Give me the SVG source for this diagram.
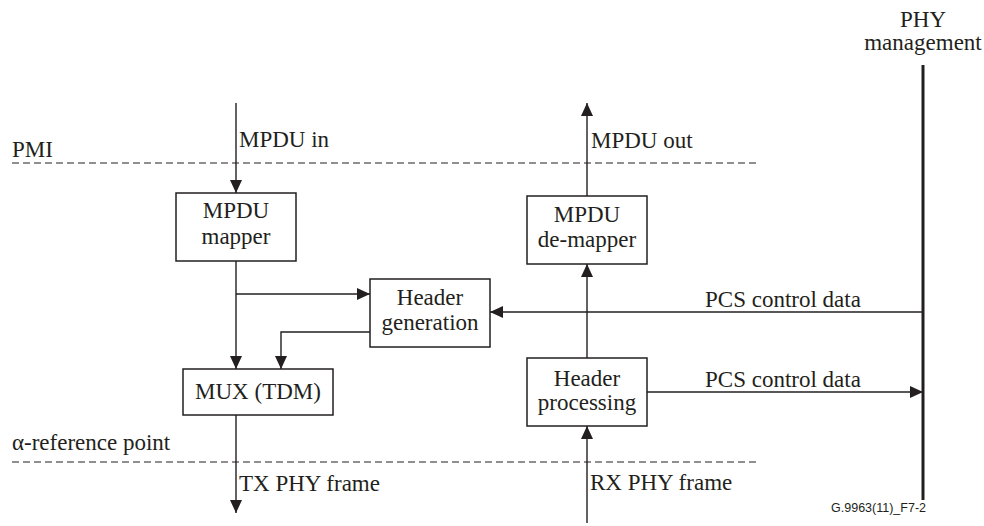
<svg xmlns="http://www.w3.org/2000/svg" width="984" height="526" viewBox="0 0 984 526">
<style>
  .t { font-family: "Liberation Serif", serif; font-size: 23px; fill: #231f20; }
  .c { text-anchor: middle; }
  .box { fill: #fff; stroke: #231f20; stroke-width: 1.5; }
  .ln { fill: none; stroke: #231f20; stroke-width: 1.4; }
  .dash { fill: none; stroke: #231f20; stroke-width: 1.2; stroke-dasharray: 7 4; }
  .thick { fill: none; stroke: #231f20; stroke-width: 3; }
  .arr { marker-end: url(#ah); }
  .code { font-family: "Liberation Sans", sans-serif; font-size: 12.5px; text-anchor: end; fill: #231f20; }
</style>
<defs>
  <marker id="ah" markerUnits="userSpaceOnUse" markerWidth="13" markerHeight="12" refX="13" refY="6" orient="auto">
    <path d="M0,0 L13,6 L0,12 z" fill="#231f20"/>
  </marker>
</defs>
<rect width="984" height="526" fill="#fff"/>

<g id="reference-lines">
  <line class="dash" x1="12" y1="163" x2="760" y2="163"/>
  <line class="dash" x1="12" y1="462" x2="760" y2="462"/>
  <text class="t" font-family="Liberation Serif, serif" x="12" y="157">PMI</text>
  <text class="t" font-family="Liberation Serif, serif" x="12" y="450">α-reference point</text>
</g>

<g id="phy-management">
  <line class="thick" x1="923" y1="65" x2="923" y2="500"/>
  <text class="t c" x="923" y="27">PHY</text>
  <text class="t c" x="923" y="50">management</text>
</g>

<g id="connectors">
  <line class="ln arr" x1="236" y1="103" x2="236" y2="193"/>
  <line class="ln arr" x1="236" y1="261" x2="236" y2="369"/>
  <line class="ln arr" x1="236" y1="294" x2="370" y2="294"/>
  <polyline class="ln arr" points="370,332 281,332 281,369"/>
  <line class="ln arr" x1="236" y1="415" x2="236" y2="513"/>
  <line class="ln arr" x1="587" y1="523" x2="587" y2="426"/>
  <line class="ln arr" x1="587" y1="358" x2="587" y2="264"/>
  <line class="ln arr" x1="587" y1="196" x2="587" y2="103"/>
  <line class="ln arr" x1="923" y1="312" x2="490" y2="312"/>
  <line class="ln arr" x1="647" y1="392" x2="923" y2="392"/>
  <text class="t" x="239" y="147">MPDU in</text>
  <text class="t" x="591" y="148">MPDU out</text>
  <text class="t" x="239" y="491">TX PHY frame</text>
  <text class="t" x="590" y="490">RX PHY frame</text>
  <text class="t c" x="783" y="307">PCS control data</text>
  <text class="t c" x="783" y="387">PCS control data</text>
</g>

<g id="mpdu-mapper">
  <rect class="box" x="176" y="193" width="120" height="68"/>
  <text class="t c" x="236" y="218">MPDU</text>
  <text class="t c" x="236" y="244">mapper</text>
</g>

<g id="header-generation">
  <rect class="box" x="370" y="279" width="120" height="68"/>
  <text class="t c" x="430" y="305">Header</text>
  <text class="t c" x="430" y="330">generation</text>
</g>

<g id="mux-tdm">
  <rect class="box" x="183" y="369" width="150" height="46"/>
  <text class="t c" x="258" y="399">MUX (TDM)</text>
</g>

<g id="mpdu-demapper">
  <rect class="box" x="527" y="196" width="120" height="68"/>
  <text class="t c" x="587" y="222">MPDU</text>
  <text class="t c" x="587" y="247">de-mapper</text>
</g>

<g id="header-processing">
  <rect class="box" x="527" y="358" width="120" height="68"/>
  <text class="t c" x="587" y="386">Header</text>
  <text class="t c" x="587" y="410">processing</text>
</g>

<text class="code" x="926" y="512">G.9963(11)_F7-2</text>
</svg>
